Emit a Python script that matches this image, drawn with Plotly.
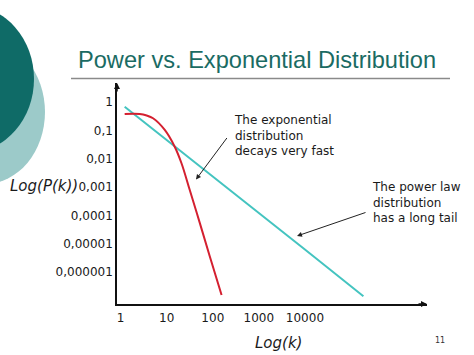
import plotly.graph_objects as go

# ---- data ----
power_k = [1.22, 10, 100, 1000, 10000, 186000]
power_p = [0.68, 0.046, 0.0023, 1.2e-4, 6.2e-6, 1.4e-7]

exp_k = [1.22, 2.59, 3.67, 5.04, 9.06, 14.9, 20.9, 31.6, 52.1, 86.1, 155]
exp_p = [0.377, 0.377, 0.333, 0.266, 0.103, 0.0264, 0.0069, 7.8e-4, 5.4e-5, 3.5e-6, 1.55e-7]

x_tickvals = [1, 10, 100, 1000, 10000]
x_ticktext = ["1", "10", "100", "1000", "10000"]
y_tickvals = [1, 0.1, 0.01, 0.001, 0.0001, 0.00001, 0.000001]
y_ticktext = ["1", "0,1", "0,01", "0,001", "0,0001", "0,00001", "0,000001"]

title_text = "Power vs. Exponential Distribution"
note_exp = "The exponential<br>distribution<br>decays very fast"
note_pow = "The power law<br>distribution<br>has a long tail"

# ---- layout geometry (pixels) ----
W, H = 474, 355
L, R, T, B = 117, 427, 83, 304
PW, PH = R - L, B - T


def px(x):
    return (x - L) / PW


def py(y):
    return (B - y) / PH


TEAL = "#1a6b63"
CYAN = "#44c4c0"
RED = "#d42030"
TXT = "#1a1a1a"
FONT = "DejaVu Sans"

fig = go.Figure()
fig.add_trace(go.Scatter(x=power_k, y=power_p, mode="lines",
                         line=dict(color=CYAN, width=2), hoverinfo="skip"))
fig.add_trace(go.Scatter(x=exp_k, y=exp_p, mode="lines",
                         line=dict(color=RED, width=2, shape="spline", smoothing=1.0),
                         hoverinfo="skip"))

fig.update_layout(
    width=W, height=H,
    margin=dict(l=L, r=W - R, t=T, b=H - B, pad=0),
    paper_bgcolor="white", plot_bgcolor="white",
    showlegend=False,
    font=dict(family=FONT, size=12, color=TXT),
    xaxis=dict(type="log", range=[-0.08, 6.65], showgrid=False, zeroline=False,
               showline=True, linecolor="#111", linewidth=1.5,
               tickvals=x_tickvals, ticktext=x_ticktext, ticks="",
               ticklabelstandoff=2,
               tickfont=dict(family=FONT, size=12, color=TXT)),
    yaxis=dict(type="log", range=[-7.13, 0.67], showgrid=False, zeroline=False,
               showline=True, linecolor="#111", linewidth=1.5,
               tickvals=y_tickvals, ticktext=y_ticktext, ticks="",
               tickfont=dict(family=FONT, size=12, color=TXT)),
)

# decorative circles (slide template)
fig.add_shape(type="circle", xref="paper", yref="paper", layer="below",
              x0=px(-75), x1=px(45), y0=py(184), y1=py(40),
              fillcolor="#9ccac9", line=dict(width=0))
fig.add_shape(type="circle", xref="paper", yref="paper", layer="below",
              x0=px(-94), x1=px(34), y0=py(152), y1=py(6),
              fillcolor="#0f6b67", line=dict(width=0))

# title rule
fig.add_shape(type="line", xref="paper", yref="paper",
              x0=px(71), x1=px(450), y0=py(78.5), y1=py(78.5),
              line=dict(color="#8a8a8a", width=1.5))

annos = []
# title
annos.append(dict(x=px(76), y=py(60), xref="paper", yref="paper", text=title_text,
                  showarrow=False, xanchor="left", yanchor="middle",
                  font=dict(family="Liberation Sans", size=23.6, color=TEAL)))
# axis arrows
annos.append(dict(x=1.0, y=0, xref="paper", yref="paper", text="", showarrow=True,
                  ax=-10, ay=0, arrowhead=2, arrowsize=0.8, arrowwidth=1.5, arrowcolor="#111"))
annos.append(dict(x=0, y=1.0, xref="paper", yref="paper", text="", showarrow=True,
                  ax=0, ay=10, arrowhead=2, arrowsize=0.8, arrowwidth=1.5, arrowcolor="#111"))
# axis labels
annos.append(dict(x=px(80), y=py(186), xref="paper", yref="paper", text="<i>Log(P(k))</i>",
                  showarrow=False, xanchor="right", yanchor="middle",
                  font=dict(family=FONT, size=15, color=TXT)))
annos.append(dict(x=px(278), y=py(343), xref="paper", yref="paper", text="<i>Log(k)</i>",
                  showarrow=False, xanchor="center", yanchor="middle",
                  font=dict(family=FONT, size=15, color=TXT)))
# slide number
annos.append(dict(x=px(440), y=py(340), xref="paper", yref="paper", text="11",
                  showarrow=False, xanchor="center", yanchor="middle",
                  font=dict(family=FONT, size=8, color="#333")))
# notes
annos.append(dict(x=px(232), y=py(135), xref="paper", yref="paper", text=note_exp,
                  showarrow=False, xanchor="left", yanchor="middle", align="left",
                  font=dict(family=FONT, size=12, color=TXT)))
annos.append(dict(x=px(370), y=py(202.5), xref="paper", yref="paper", text=note_pow,
                  showarrow=False, xanchor="left", yanchor="middle", align="left",
                  font=dict(family=FONT, size=12, color=TXT)))
# callout arrows
annos.append(dict(x=px(196), y=py(179.5), xref="paper", yref="paper", text="",
                  showarrow=True, ax=32, ay=-43, arrowhead=2, arrowsize=1,
                  arrowwidth=1, arrowcolor="#222"))
annos.append(dict(x=px(297), y=py(236), xref="paper", yref="paper", text="",
                  showarrow=True, ax=70, ay=-24, arrowhead=2, arrowsize=1,
                  arrowwidth=1, arrowcolor="#222"))

fig.update_layout(annotations=annos)
fig.write_html("out.html", config={"displayModeBar": False},
               post_script="document.body.style.margin='0';")
